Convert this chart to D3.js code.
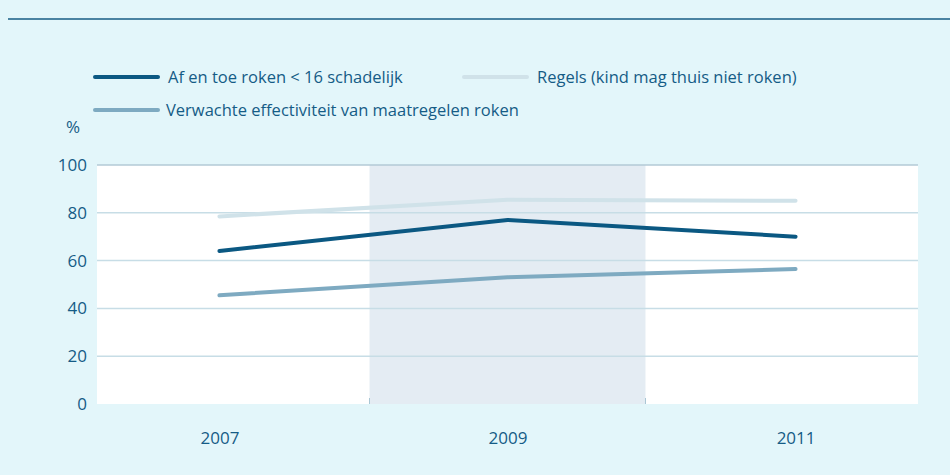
<!DOCTYPE html>
<html><head><meta charset="utf-8">
<script src="https://cdn.jsdelivr.net/npm/d3@7"></script>
<style>
html,body{margin:0;padding:0;background:#e3f6fa;}
svg{display:block;font-family:"Open Sans",sans-serif;}
</style></head>
<body><svg id="c" width="950" height="475"></svg>
<script>
const years = ["2007","2009","2011"];
const afEnToe = [64, 77, 70];
const regels = [78.5, 85.5, 85];
const verwacht = [45.5, 53, 56.5];
const yTicks = [0,20,40,60,80,100];
const seriesNames = ["Af en toe roken < 16 schadelijk","Regels (kind mag thuis niet roken)","Verwachte effectiviteit van maatregelen roken"];
const seriesColors = ["#0b5882","#d0e2e9","#7eaac1"];
const shadedYear = "2009";

const svg = d3.select("#c");
const textColor = "#155c86";
const FONT = "'Open Sans', sans-serif";
svg.append("rect").attr("width",950).attr("height",475).attr("fill","#e3f6fa");
svg.append("line").attr("x1",8).attr("x2",950).attr("y1",19).attr("y2",19).attr("stroke","#175d85").attr("stroke-width",1.5);

const x = d3.scalePoint().domain(years).range([97,918]).padding(0.425);
const y = d3.scaleLinear().domain([0,100]).range([404,165]);
const step = x.step();
const bandHalf = step*0.479;

const g = svg.append("g");
g.append("rect").attr("x",97).attr("y",165).attr("width",821).attr("height",239).attr("fill","#ffffff");
g.append("rect").attr("x",x(shadedYear)-bandHalf).attr("y",165).attr("width",bandHalf*2).attr("height",239).attr("fill","#e4ecf3");

g.selectAll(".grid").data(yTicks.filter(d=>d>0)).enter().append("line")
 .attr("x1",97).attr("x2",918).attr("y1",d=>y(d)).attr("y2",d=>y(d))
 .attr("stroke",d=>d===100?"#b3cad6":"#c7dde6").attr("stroke-width",1.5);

const yAxis = d3.axisLeft(y).tickValues(yTicks).tickSize(0).tickPadding(10);
const ya = svg.append("g").attr("transform","translate(97,0)").call(yAxis);
ya.select(".domain").remove();
ya.selectAll("text").attr("fill",textColor).attr("font-size",17).attr("font-family",FONT);

const xAxis = d3.axisBottom(x).tickSize(0).tickPadding(28);
const xa = svg.append("g").attr("transform","translate(0,404)").call(xAxis);
xa.select(".domain").remove();
xa.selectAll("text").attr("fill",textColor).attr("font-size",17).attr("font-family",FONT);

g.selectAll(".bt").data([-1,1]).enter().append("line")
 .attr("x1",d=>x(shadedYear)+d*bandHalf).attr("x2",d=>x(shadedYear)+d*bandHalf).attr("y1",398).attr("y2",404)
 .attr("stroke","#a9c6d4").attr("stroke-width",1);

svg.append("text").attr("x",66).attr("y",133).attr("fill",textColor).attr("font-size",17).attr("font-family",FONT).text("%");

const line = d3.line().x((d,i)=>x(years[i])).y(d=>y(d));
const data = [regels, verwacht, afEnToe];
const cols = [seriesColors[1], seriesColors[2], seriesColors[0]];
data.forEach((s,i)=>{
  g.append("path").datum(s).attr("d",line).attr("fill","none")
   .attr("stroke",cols[i]).attr("stroke-width",4).attr("stroke-linecap","round");
});

const legPos = [[94,77],[463,77],[94,110]];
const legTx = [168,537,166];
seriesNames.forEach((n,i)=>{
  const [lx,ly] = legPos[i];
  svg.append("line").attr("x1",lx+1).attr("x2",lx+64).attr("y1",ly).attr("y2",ly)
    .attr("stroke",seriesColors[i]).attr("stroke-width",4).attr("stroke-linecap","round");
  svg.append("text").attr("x",legTx[i]).attr("y",ly+6).attr("fill",textColor).attr("font-size",16.5)
    .attr("font-family",FONT).text(n);
});
</script></body></html>
